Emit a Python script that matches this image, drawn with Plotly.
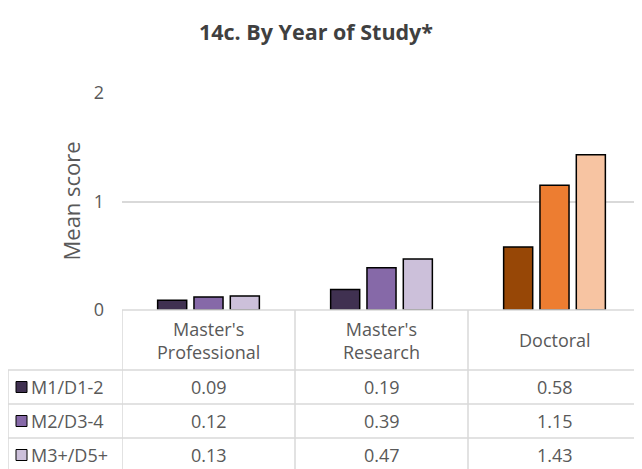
import plotly.graph_objects as go

# data
categories = ["Master's Professional", "Master's Research", "Doctoral"]
category_labels = ["Master's<br>Professional", "Master's<br>Research", "Doctoral"]
series_names = ["M1/D1-2", "M2/D3-4", "M3+/D5+"]
m1_d12 = [0.09, 0.19, 0.58]
m2_d34 = [0.12, 0.39, 1.15]
m3_d5 = [0.13, 0.47, 1.43]
series_values = [m1_d12, m2_d34, m3_d5]

# colours: purple shades for master's, orange shades for doctoral
purples = ["#403151", "#8669A8", "#CCC0DA"]
oranges = ["#974706", "#ED7D31", "#F7C4A2"]

# the page body has an 8px margin, so the figure is drawn 8px in from the corner
O = 8
W, H = 642 - O, 469 - O
L, R, T, B = 122 - O, 1, 93 - O, 469 - 310
plot_h = H - T - B
plot_w = W - L - R


def py(pix):
    # window pixel row -> paper y
    return (H - B - (pix - O)) / plot_h


def px(pix):
    # window pixel column -> paper x
    return (pix - O - L) / plot_w


font = "Open Sans"
grey = "#595959"
line_col = "#D9D9D9"

fig = go.Figure()
for i, (name, vals) in enumerate(zip(series_names, series_values)):
    fig.add_trace(go.Bar(
        x=categories, y=vals, name=name,
        marker=dict(color=[purples[i], purples[i], oranges[i]],
                    line=dict(color="black", width=1.5)),
        showlegend=False,
    ))

shapes = []
# horizontal table lines
shapes.append(dict(type="line", xref="paper", yref="paper", x0=0, x1=1,
                   y0=py(310), y1=py(310), line=dict(color=line_col, width=1.5)))
for yy in [370, 404, 438, 472]:
    shapes.append(dict(type="line", xref="paper", yref="paper", x0=px(8), x1=1,
                       y0=py(yy), y1=py(yy), line=dict(color=line_col, width=1.5)))
# vertical table lines
for xv in [-0.5, 0.5, 1.5]:
    shapes.append(dict(type="line", xref="x", yref="paper", x0=xv, x1=xv,
                       y0=py(310), y1=py(472), line=dict(color=line_col, width=1.5)))
shapes.append(dict(type="line", xref="paper", yref="paper", x0=px(8), x1=px(8),
                   y0=py(370), y1=py(472), line=dict(color=line_col, width=1.5)))

txt = dict(family=font, size=18, color=grey)
row_centres = [387, 421, 455]
annotations = []
for cat, lab in zip(categories, category_labels):
    annotations.append(dict(x=cat, xref="x", y=py(340), yref="paper", text=lab,
                            xanchor="center", yanchor="middle", showarrow=False, font=txt))
for i, (name, vals) in enumerate(zip(series_names, series_values)):
    yc = row_centres[i]
    shapes.append(dict(type="rect", xref="paper", yref="paper",
                       x0=px(16), x1=px(27), y0=py(yc - 5.5), y1=py(yc + 5.5),
                       fillcolor=purples[i], line=dict(color="black", width=1)))
    annotations.append(dict(x=px(29), xref="paper", y=py(yc), yref="paper", text=name,
                            xanchor="left", yanchor="middle", showarrow=False, font=txt))
    for cat, v in zip(categories, vals):
        annotations.append(dict(x=cat, xref="x", y=py(yc), yref="paper", text=f"{v:.2f}",
                                xanchor="center", yanchor="middle", showarrow=False, font=txt))

annotations.append(dict(x=px(70), xref="paper", y=0.5, yref="paper", text="Mean score",
                        textangle=-90, xanchor="center", yanchor="middle", showarrow=False,
                        font=dict(family=font, size=22, color=grey)))

fig.update_layout(
    width=W, height=H,
    margin=dict(l=L, r=R, t=T, b=B),
    paper_bgcolor="white", plot_bgcolor="white",
    title=dict(text="<b>14c. By Year of Study*</b>", x=(316 - O) / W, xanchor="center",
               y=1 - (32 - O) / H, yanchor="middle",
               font=dict(family=font, size=21.5, color="#404040")),
    barmode="group", bargap=0.37, bargroupgap=0.2,
    xaxis=dict(showticklabels=False, showgrid=False, zeroline=False, showline=False,
               range=[-0.5, 2.5]),
    yaxis=dict(range=[0, 2], dtick=1, showgrid=True, gridcolor=line_col, gridwidth=1.5,
               zeroline=False, showline=False, ticklabelstandoff=17,
               tickfont=dict(family=font, size=18, color=grey)),
    shapes=shapes, annotations=annotations,
)
fig.write_html("out.html")
